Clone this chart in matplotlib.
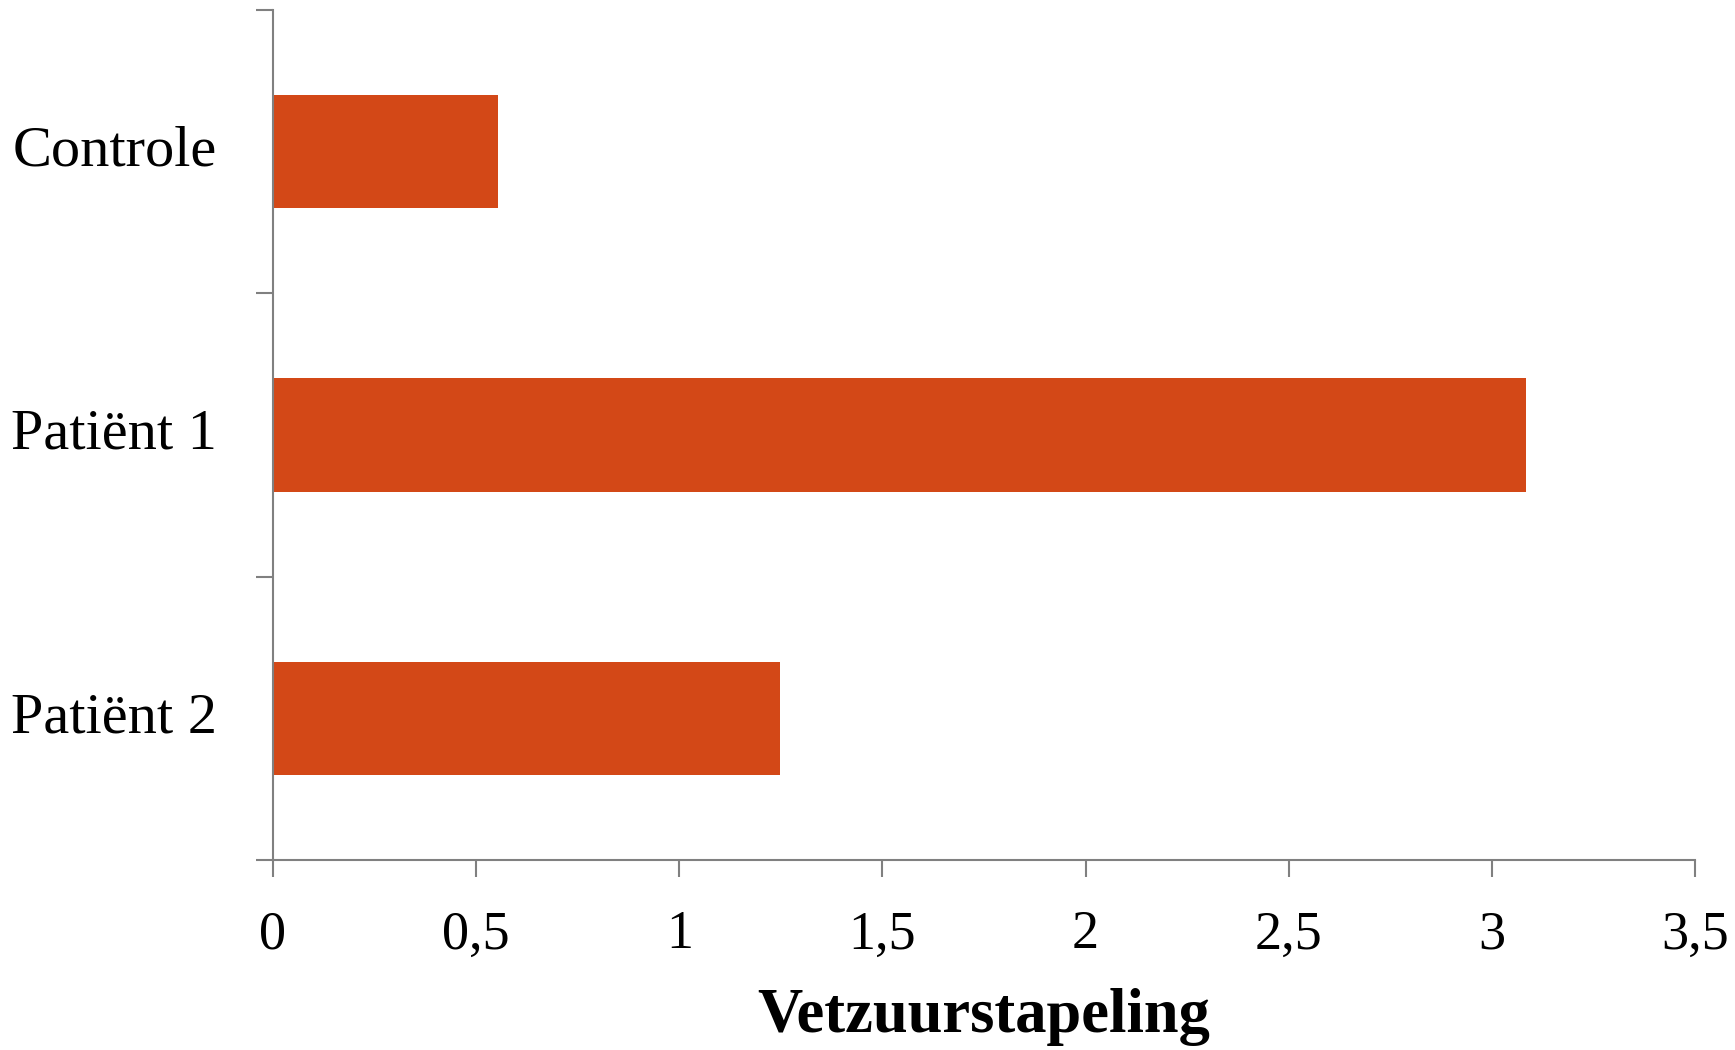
import numpy as np
import matplotlib.pyplot as plt
from matplotlib.ticker import FixedLocator, NullFormatter

CATEGORIES = ["Controle", "Patiënt 1", "Patiënt 2"]
VALUES = [0.553, 3.085, 1.247]
X_TICKS = [0, 0.5, 1, 1.5, 2, 2.5, 3, 3.5]
X_TICK_LABELS = ["0", "0,5", "1", "1,5", "2", "2,5", "3", "3,5"]
BAR_COLOUR = "#D34817"
AXIS_COLOUR = "#808080"

plt.rcParams["font.family"] = ["Liberation Serif", "DejaVu Serif"]

fig = plt.figure(figsize=(17.35, 10.5), dpi=100)
ax = fig.add_axes([0.1573, 0.181, 0.977 - 0.1573, 0.9905 - 0.181])

y = np.arange(len(CATEGORIES))
ax.barh(y, VALUES, height=0.4, color=BAR_COLOUR)

ax.set_xlim(0, 3.5)
ax.set_ylim(2.5, -0.5)

ax.set_xticks(X_TICKS)
ax.set_xticklabels(X_TICK_LABELS, fontsize=39)

# y ticks sit between the categories, labels in the middle of each band
ax.yaxis.set_major_locator(FixedLocator([-0.5, 0.5, 1.5, 2.5]))
ax.yaxis.set_major_formatter(NullFormatter())
ax.yaxis.set_minor_locator(FixedLocator(list(y)))
ax.set_yticklabels(CATEGORIES, minor=True, fontsize=42, va="center")

ax.tick_params(axis="x", which="major", direction="out", length=12, width=1.5,
               color=AXIS_COLOUR, pad=24)
ax.tick_params(axis="y", which="major", direction="out", length=12, width=1.5,
               color=AXIS_COLOUR)
ax.tick_params(axis="y", which="minor", length=0, pad=40)

for side in ("top", "right"):
    ax.spines[side].set_visible(False)
for side in ("left", "bottom"):
    ax.spines[side].set_color(AXIS_COLOUR)
    ax.spines[side].set_linewidth(1.5)

ax.set_xlabel("Vetzuurstapeling", fontsize=45, fontweight="bold", labelpad=20)

fig.savefig("out.png", dpi=100)
